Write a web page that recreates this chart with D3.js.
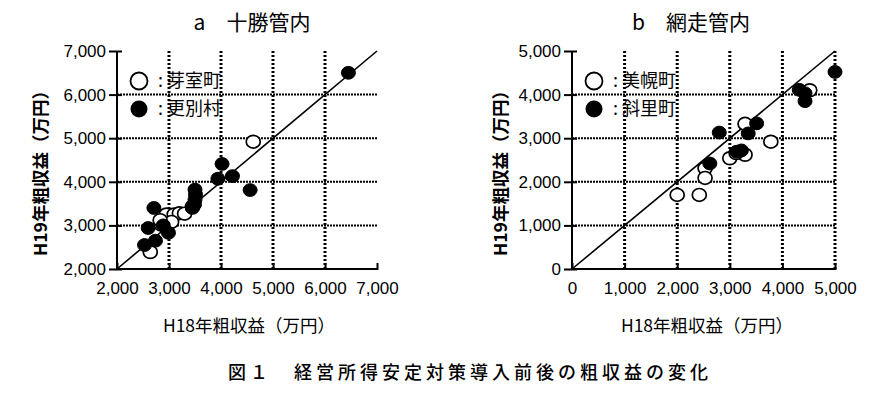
<!DOCTYPE html>
<html><head><meta charset="utf-8">
<script src="https://cdn.jsdelivr.net/npm/d3@7"></script>
<style>
body{margin:0;background:#fff;}
svg{display:block;}
text{font-family:"Liberation Sans",Arial,"Noto Sans CJK JP",sans-serif;fill:#000;}
.cjk{font-family:"Noto Sans CJK JP","Liberation Sans",sans-serif;}
.num{font-family:"Liberation Sans",Arial,sans-serif;}
</style></head><body>
<svg id="c" width="894" height="394"></svg>
<script>
// ---- data ----
const titleA = "a\u3000十勝管内";
const titleB = "b\u3000網走管内";
const yLabel = "H19年粗収益（万円）";
const xLabel = "H18年粗収益（万円）";
const caption = "図１\u3000経営所得安定対策導入前後の粗収益の変化";

const ticksA = [2000, 3000, 4000, 5000, 6000, 7000];
const ticksB = [0, 1000, 2000, 3000, 4000, 5000];

const seriesA1Name = "芽室町";   // open
const seriesA2Name = "更別村";   // filled
const seriesB1Name = "美幌町";   // open
const seriesB2Name = "斜里町";   // filled

// [H18, H19] in 万円
const memuro = [[4620,4920],[2640,2390],[2950,3250],[3100,3250],[3200,3280],[3300,3270],[2850,3020],[3050,3080],[2830,3120],[3450,3430]];
const sarabetsu = [[6450,6500],[4020,4410],[3940,4070],[4220,4130],[4560,3810],[3500,3820],[3510,3710],[3500,3590],[3490,3480],[3450,3400],[2710,3400],[2600,2940],[2740,2650],[2530,2550],[2990,2830],[2890,3000]];
const bihoro = [[4520,4100],[3290,3330],[3780,2920],[3290,2620],[3000,2540],[3120,2660],[2530,2310],[2530,2090],[2000,1700],[2420,1700]];
const shari = [[5000,4520],[4320,4110],[4430,4030],[4430,3850],[3510,3340],[3350,3110],[2800,3130],[3130,2690],[3220,2720],[2620,2420]];

const svg = d3.select("#c");
const fmt = d3.format(",");

function panel(cfg){
  const x = d3.scaleLinear().domain(cfg.domain).range(cfg.xr);
  const y = d3.scaleLinear().domain(cfg.domain).range([269, 51]);
  const g = svg.append("g");
  const [x0,x1] = cfg.xr;

  // horizontal gridlines
  g.selectAll(".hg").data(cfg.ticks.slice(1, -1)).join("line")
    .attr("x1", x0).attr("x2", x1).attr("y1", d=>y(d)).attr("y2", d=>y(d))
    .attr("stroke","#000").attr("stroke-width",2).attr("stroke-dasharray","2,1");
  // vertical gridlines
  g.selectAll(".vg").data(cfg.vgrid).join("line")
    .attr("x1", d=>x(d)).attr("x2", d=>x(d)).attr("y1", 51).attr("y2", 269)
    .attr("stroke","#000").attr("stroke-width",3).attr("stroke-dasharray","2,2");

  // axes
  const ya = d3.axisLeft(y).tickValues(cfg.ticks).tickFormat(fmt).tickSize(8).tickPadding(3);
  const yg = g.append("g").attr("transform",`translate(${x0},0)`).call(ya);
  yg.select(".domain").attr("stroke-width",2).attr("d",`M0,${y.range()[0]}V${y.range()[1]}`);
  yg.selectAll(".tick line").attr("x1",5).attr("x2",-8).attr("stroke-width",2);
  yg.selectAll(".tick text").attr("class","num").attr("font-size",17);

  const xa = d3.axisBottom(x).tickValues(cfg.ticks).tickFormat(fmt).tickSize(0).tickPadding(13);
  const xg = g.append("g").attr("transform",`translate(0,269)`).call(xa);
  xg.select(".domain").attr("stroke-width",2).attr("d",`M${x0},0H${x1}`);
  xg.selectAll(".tick line").attr("y1",-6).attr("y2",1).attr("stroke","#000").attr("stroke-width",2);
  xg.selectAll(".tick text").attr("class","num").attr("font-size",17);
  g.selectAll(".tick text").style("font-family","'Liberation Sans', Arial, sans-serif");

  // y=x line
  g.append("line").attr("x1",x(cfg.domain[0])).attr("y1",y(cfg.domain[0]))
    .attr("x2",x(cfg.domain[1])).attr("y2",y(cfg.domain[1]))
    .attr("stroke","#000").attr("stroke-width",1.6);

  // points: open first, filled after
  g.selectAll(".o").data(cfg.open).join("ellipse")
    .attr("cx",d=>x(d[0])).attr("cy",d=>y(d[1])).attr("rx",7).attr("ry",6.4)
    .attr("fill","#fff").attr("stroke","#000").attr("stroke-width",1.7);
  g.selectAll(".f").data(cfg.filled).join("ellipse")
    .attr("cx",d=>x(d[0])).attr("cy",d=>y(d[1])).attr("rx",7).attr("ry",6.4)
    .attr("fill","#000").attr("stroke","#000").attr("stroke-width",1);

  // legend
  const lx = x0 + 22;
  g.append("circle").attr("cx",lx).attr("cy",81).attr("r",8.5)
    .attr("fill","#fff").attr("stroke","#000").attr("stroke-width",1.8);
  g.append("circle").attr("cx",lx).attr("cy",109).attr("r",8.5).attr("fill","#000");
  g.append("text").attr("class","cjk").attr("x",lx+19).attr("y",81).attr("dy","0.36em")
    .attr("font-size",18).text(":\u00a0" + cfg.n1);
  g.append("text").attr("class","cjk").attr("x",lx+19).attr("y",109).attr("dy","0.36em")
    .attr("font-size",18).text(":\u00a0" + cfg.n2);

  // titles
  svg.append("text").attr("class","cjk").attr("x",cfg.titleX).attr("y",30)
    .attr("text-anchor","middle").attr("font-size",21).text(cfg.title);
  svg.append("text").attr("class","cjk").attr("x",cfg.xlX).attr("y",332)
    .attr("text-anchor","middle").attr("font-size",17.5).text(xLabel);
  svg.append("text").attr("class","cjk")
    .attr("transform",`translate(${cfg.ylx},169) rotate(-90)`)
    .attr("text-anchor","middle").attr("dy","0.35em").attr("font-size",17.5)
    .attr("font-weight","bold").text(yLabel);
}

panel({domain:[2000,7000], xr:[117,377], ticks:ticksA, vgrid:[3000,4000,5000,6000],
  open:memuro, filled:sarabetsu, n1:seriesA1Name, n2:seriesA2Name, title:titleA, titleX:252, xlX:249, ylx:41});
panel({domain:[0,5000], xr:[572,835], ticks:ticksB, vgrid:[1000,2000,3000,4000,5000],
  open:bihoro, filled:shari, n1:seriesB1Name, n2:seriesB2Name, title:titleB, titleX:691, xlX:707, ylx:501});

svg.append("text").attr("class","cjk").attr("x",470).attr("y",379)
  .attr("text-anchor","middle").attr("font-size",18).attr("font-weight",500)
  .attr("letter-spacing","4px").text(caption);
</script>
</body></html>
